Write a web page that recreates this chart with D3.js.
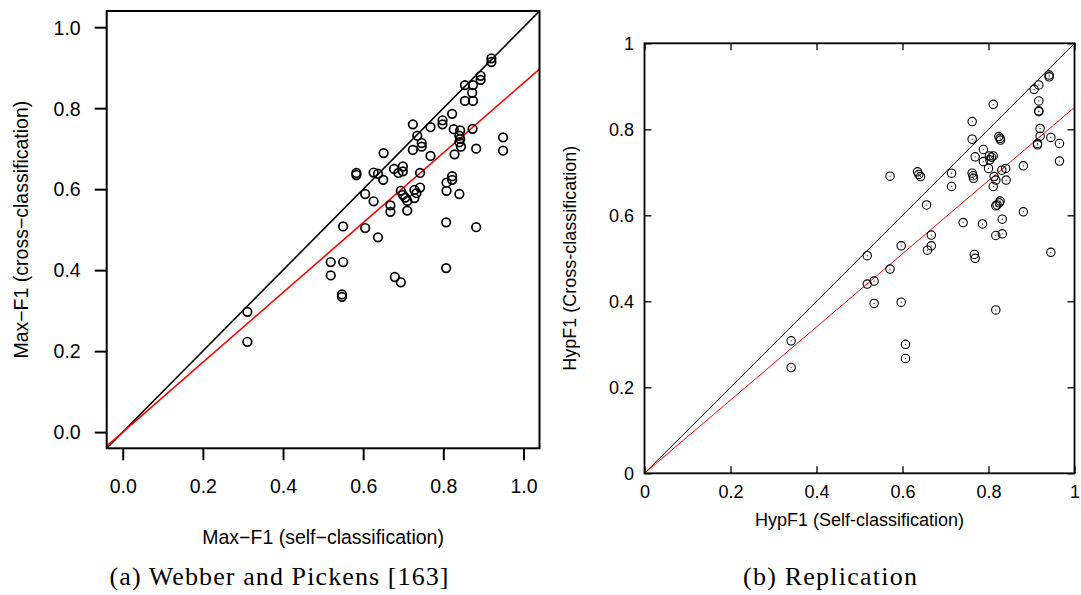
<!DOCTYPE html>
<html>
<head>
<meta charset="utf-8">
<script src="https://cdn.jsdelivr.net/npm/d3@7/dist/d3.min.js"></script>
<style>
  html, body { margin: 0; padding: 0; background: #fff; }
  svg { display: block; }
  .sans { font-family: "Liberation Sans", Arial, Helvetica, sans-serif; }
  .serif { font-family: "Liberation Serif", "Times New Roman", serif; }
</style>
</head>
<body>
<svg id="fig" width="1081" height="595"></svg>
<script>
// Panel (a): Max-F1, self-classification (x) vs cross-classification (y)
const selfA = [0.920,0.920,0.893,0.893,0.854,0.874,0.872,0.854,0.874,0.822,
  0.798,0.798,0.768,0.724,0.735,0.746,0.746,0.724,0.768,0.826,
  0.842,0.840,0.842,0.840,0.844,0.828,0.873,0.882,0.949,0.949,
  0.651,0.583,0.583,0.626,0.637,0.650,0.677,0.688,0.699,0.699,
  0.742,0.605,0.626,0.668,0.668,0.710,0.694,0.699,0.705,0.710,
  0.728,0.733,0.742,0.728,0.822,0.808,0.822,0.808,0.840,0.550,
  0.605,0.637,0.807,0.882,0.519,0.550,0.519,0.679,0.694,0.807,
  0.547,0.547,0.311,0.311];
const crossA = [0.923,0.914,0.880,0.870,0.857,0.857,0.838,0.818,0.818,0.786,
  0.770,0.760,0.753,0.760,0.732,0.714,0.705,0.697,0.682,0.748,
  0.745,0.732,0.724,0.716,0.705,0.686,0.749,0.700,0.728,0.695,
  0.689,0.640,0.635,0.641,0.638,0.623,0.650,0.640,0.656,0.644,
  0.640,0.588,0.570,0.560,0.544,0.547,0.596,0.586,0.579,0.571,
  0.598,0.590,0.604,0.578,0.632,0.616,0.623,0.596,0.588,0.508,
  0.504,0.481,0.518,0.506,0.420,0.420,0.387,0.383,0.370,0.405,
  0.340,0.334,0.297,0.223];
const slopeA = 0.862;   // least-squares fit through the origin
const ticksA = [0.0, 0.2, 0.4, 0.6, 0.8, 1.0];

// Panel (b): HypF1, self-classification (x) vs cross-classification (y)
const selfB = [0.341,0.341,0.518,0.518,0.534,0.534,0.571,0.571,0.597,0.597,
  0.607,0.607,0.635,0.638,0.642,0.656,0.658,0.667,0.667,0.714,
  0.714,0.741,0.762,0.762,0.762,0.764,0.765,0.767,0.769,0.769,
  0.788,0.788,0.786,0.800,0.802,0.807,0.811,0.803,0.811,0.813,
  0.817,0.811,0.817,0.820,0.825,0.827,0.817,0.817,0.824,0.827,
  0.828,0.831,0.840,0.841,0.832,0.832,0.881,0.881,0.906,0.917,
  0.917,0.917,0.917,0.920,0.920,0.914,0.914,0.941,0.941,0.945,
  0.965,0.965,0.945];
const crossB = [0.308,0.246,0.506,0.440,0.447,0.395,0.691,0.475,0.529,0.398,
  0.300,0.267,0.701,0.695,0.690,0.624,0.519,0.554,0.529,0.698,
  0.667,0.583,0.818,0.777,0.698,0.692,0.686,0.509,0.500,0.736,
  0.753,0.725,0.580,0.709,0.738,0.735,0.738,0.729,0.858,0.690,
  0.682,0.667,0.622,0.624,0.629,0.633,0.553,0.380,0.783,0.779,
  0.775,0.705,0.709,0.682,0.591,0.557,0.715,0.608,0.893,0.903,
  0.866,0.841,0.843,0.802,0.784,0.767,0.764,0.926,0.922,0.781,
  0.767,0.726,0.514];
const slopeB = 0.851;
const ticksB = [0, 0.2, 0.4, 0.6, 0.8, 1];

const svg = d3.select("#fig");

// ---------- panel (a), base-R look ----------
{
  const x = d3.scaleLinear().domain([-0.04, 1.04]).range([106.7, 539.5]);
  const y = d3.scaleLinear().domain([-0.04, 1.04]).range([448.3, 11]);
  const g = svg.append("g");
  const fmt = d3.format(".1f");

  g.append("clipPath").attr("id", "clipA").append("rect")
    .attr("x", x(-0.04)).attr("y", y(1.04))
    .attr("width", x(1.04) - x(-0.04)).attr("height", y(-0.04) - y(1.04));

  const lines = g.append("g").attr("clip-path", "url(#clipA)");
  const line = d3.line().x(d => x(d[0])).y(d => y(d[1]));
  lines.append("path").attr("d", line([[-0.04, -0.04], [1.04, 1.04]]))
    .attr("stroke", "#000").attr("stroke-width", 1.6).attr("fill", "none");
  lines.append("path").attr("d", line([[-0.04, -0.04 * slopeA], [1.04, 1.04 * slopeA]]))
    .attr("stroke", "#ff0000").attr("stroke-width", 1.6).attr("fill", "none");

  g.append("g").selectAll("circle").data(selfA.map((v, i) => [v, crossA[i]]))
    .join("circle")
    .attr("cx", d => x(d[0])).attr("cy", d => y(d[1])).attr("r", 4.3)
    .attr("fill", "none").attr("stroke", "#000").attr("stroke-width", 1.7);

  g.append("rect").attr("x", x(-0.04)).attr("y", y(1.04))
    .attr("width", x(1.04) - x(-0.04)).attr("height", y(-0.04) - y(1.04))
    .attr("fill", "none").attr("stroke", "#000").attr("stroke-width", 2);

  const ax = g.append("g").attr("transform", `translate(0,${y(-0.04)})`)
    .call(d3.axisBottom(x).tickValues(ticksA).tickFormat(fmt).tickSize(12));
  ax.select(".domain").remove();
  ax.selectAll(".tick line").attr("stroke-width", 2);
  ax.selectAll(".tick text").attr("class", "sans").attr("font-size", 19.5)
    .attr("y", 45).attr("dy", null).attr("fill", "#000");

  const ay = g.append("g").attr("transform", `translate(${x(-0.04)},0)`)
    .call(d3.axisLeft(y).tickValues(ticksA).tickFormat(fmt).tickSize(12));
  ay.select(".domain").remove();
  ay.selectAll(".tick line").attr("stroke-width", 2);
  ay.selectAll(".tick text").attr("class", "sans").attr("font-size", 19.5)
    .attr("x", -26).attr("dy", "0.35em").attr("fill", "#000");

  g.append("text").attr("class", "sans").attr("font-size", 19.5)
    .attr("x", (x(-0.04) + x(1.04)) / 2).attr("y", 544).attr("text-anchor", "middle")
    .text("Max\u2212F1 (self\u2212classification)");
  g.append("text").attr("class", "sans").attr("font-size", 19.5)
    .attr("transform", `translate(28,${(y(-0.04) + y(1.04)) / 2}) rotate(-90)`)
    .attr("text-anchor", "middle")
    .text("Max\u2212F1 (cross\u2212classification)");

  g.append("text").attr("class", "serif").attr("font-size", 26)
    .attr("x", 279).attr("y", 585).attr("text-anchor", "middle")
    .attr("textLength", 339).attr("lengthAdjust", "spacing")
    .text("(a) Webber and Pickens [163]");
}

// ---------- panel (b), gnuplot look ----------
{
  const x = d3.scaleLinear().domain([0, 1]).range([644.5, 1074.5]);
  const y = d3.scaleLinear().domain([0, 1]).range([473.3, 43.3]);
  const g = svg.append("g");
  const fmt = d => (d === 0 || d === 1) ? String(d) : d.toFixed(1);

  const line = d3.line().x(d => x(d[0])).y(d => y(d[1]));
  g.append("path").attr("d", line([[0, 0], [1, 1]]))
    .attr("stroke", "#000").attr("stroke-width", 1).attr("fill", "none");
  g.append("path").attr("d", line([[0, 0], [1, slopeB]]))
    .attr("stroke", "#ff0000").attr("stroke-width", 1).attr("fill", "none");

  const pts = g.append("g").selectAll("g").data(selfB.map((v, i) => [v, crossB[i]]))
    .join("g").attr("transform", d => `translate(${x(d[0])},${y(d[1])})`);
  pts.append("circle").attr("r", 4.2).attr("fill", "none")
    .attr("stroke", "#000").attr("stroke-width", 1.1);
  pts.append("circle").attr("r", 0.6).attr("fill", "#000");

  const inner = 7;
  const bottom = g.append("g").attr("transform", `translate(0,${y(0)})`)
    .call(d3.axisBottom(x).tickValues(ticksB).tickFormat(fmt).tickSize(-inner));
  bottom.selectAll(".tick text").attr("class", "sans").attr("font-size", 18)
    .attr("y", 24.4).attr("dy", null).attr("fill", "#000");
  const top = g.append("g").attr("transform", `translate(0,${y(1)})`)
    .call(d3.axisTop(x).tickValues(ticksB).tickFormat("").tickSize(-inner));
  const left = g.append("g").attr("transform", `translate(${x(0)},0)`)
    .call(d3.axisLeft(y).tickValues(ticksB).tickFormat(fmt).tickSize(-inner));
  left.selectAll(".tick text").attr("class", "sans").attr("font-size", 18)
    .attr("x", -10.5).attr("dy", "0.35em").attr("fill", "#000");
  const right = g.append("g").attr("transform", `translate(${x(1)},0)`)
    .call(d3.axisRight(y).tickValues(ticksB).tickFormat("").tickSize(-inner));
  [bottom, top, left, right].forEach(a => {
    a.select(".domain").remove();
    a.selectAll(".tick line").attr("stroke-width", 1.3);
  });

  g.append("rect").attr("x", x(0)).attr("y", y(1))
    .attr("width", x(1) - x(0)).attr("height", y(0) - y(1))
    .attr("fill", "none").attr("stroke", "#000").attr("stroke-width", 1.8);

  g.append("text").attr("class", "sans").attr("font-size", 18)
    .attr("x", (x(0) + x(1)) / 2).attr("y", 526).attr("text-anchor", "middle")
    .text("HypF1 (Self-classification)");
  g.append("text").attr("class", "sans").attr("font-size", 18)
    .attr("transform", `translate(576,${(y(0) + y(1)) / 2}) rotate(-90)`)
    .attr("text-anchor", "middle")
    .text("HypF1 (Cross-classification)");

  g.append("text").attr("class", "serif").attr("font-size", 26)
    .attr("x", 830).attr("y", 585).attr("text-anchor", "middle")
    .attr("textLength", 174).attr("lengthAdjust", "spacing")
    .text("(b) Replication");
}
</script>
</body>
</html>
